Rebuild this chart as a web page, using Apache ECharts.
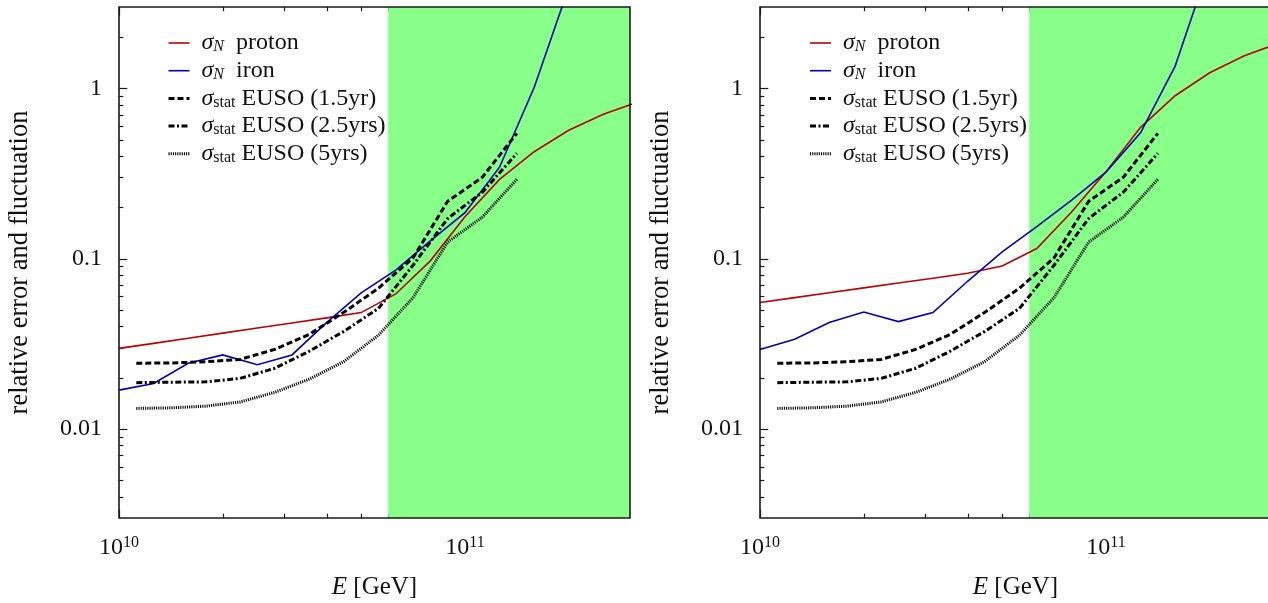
<!DOCTYPE html>
<html><head><meta charset="utf-8">
<script src="https://cdn.jsdelivr.net/npm/echarts@6/dist/echarts.min.js"></script>
<style>html,body{margin:0;padding:0;background:#fff}#c{width:1268px;height:603px}</style>
</head><body><div id="c"></div>
<script>
// ---- data ----
const energies = [1.0e10, 1.259e10, 1.585e10, 1.995e10, 2.512e10, 3.162e10, 3.981e10, 5.012e10, 6.310e10, 7.943e10, 1.0e11, 1.259e11, 1.585e11, 1.995e11, 2.512e11, 3.162e11];
const statEnergies = [1.122e10, 1.413e10, 1.778e10, 2.239e10, 2.818e10, 3.548e10, 4.467e10, 5.623e10, 7.079e10, 8.913e10, 1.122e11, 1.413e11];

const protonLeft  = [0.0297, 0.0318, 0.0341, 0.0365, 0.0391, 0.0419, 0.0449, 0.0482, 0.0620, 0.0970, 0.176, 0.292, 0.424, 0.567, 0.703, 0.830];
const ironLeft    = [0.0169, 0.0185, 0.0243, 0.0272, 0.0238, 0.0272, 0.0421, 0.0630, 0.0855, 0.127, 0.186, 0.344, 1.01, 3.9];
const protonRight = [0.0552, 0.0590, 0.0630, 0.0673, 0.0719, 0.0767, 0.0820, 0.0905, 0.1146, 0.187, 0.323, 0.590, 0.904, 1.233, 1.552, 1.84];
const ironRight   = [0.0293, 0.0336, 0.0421, 0.0486, 0.0427, 0.0482, 0.0736, 0.1096, 0.154, 0.220, 0.322, 0.548, 1.35, 5.35];

const stat15yr = [0.0243, 0.0244, 0.0248, 0.0256, 0.0293, 0.0359, 0.0484, 0.0670, 0.101, 0.217, 0.300, 0.544];
const stat25yr = [0.0187, 0.0188, 0.0189, 0.0198, 0.0227, 0.0286, 0.0374, 0.0510, 0.0914, 0.172, 0.245, 0.415];
const stat5yr  = [0.0132, 0.0133, 0.0136, 0.0144, 0.0164, 0.0196, 0.0249, 0.0355, 0.0590, 0.125, 0.175, 0.292];

const greenRange = [6e10, 3e11];

// ---- axes / ticks ----
const xRange = [1e10, 3e11];
const yRange = [0.003, 3];
const xMajorTicks = [1e10, 1e11];
const xTickExponents = ['10', '11'];
const xMinorTicks = [2e10, 3e10, 4e10, 5e10, 6e10, 7e10, 8e10, 9e10, 2e11];
const yMajorTicks = [0.01, 0.1, 1];
const yTickLabels = ['0.01', '0.1', '1'];
const yMinorTicks = [0.004, 0.005, 0.006, 0.007, 0.008, 0.009, 0.02, 0.03, 0.04, 0.05, 0.06, 0.07, 0.08, 0.09, 0.2, 0.3, 0.4, 0.5, 0.6, 0.7, 0.8, 0.9, 2];

const names = {
  p: 'sigmaN proton', fe: 'sigmaN iron',
  s1: 'sigma_stat EUSO (1.5yr)', s2: 'sigma_stat EUSO (2.5yrs)', s5: 'sigma_stat EUSO (5yrs)'
};
const legendText = {};
legendText[names.p]  = '{g|σ}{gs|N}{t|  proton}';
legendText[names.fe] = '{g|σ}{gs|N}{t|  iron}';
legendText[names.s1] = '{g|σ}{rs|stat}{t| EUSO (1.5yr)}';
legendText[names.s2] = '{g|σ}{rs|stat}{t| EUSO (2.5yrs)}';
legendText[names.s5] = '{g|σ}{rs|stat}{t| EUSO (5yrs)}';

const FONT = 'Liberation Serif';
const TXT = '#111';

function pairs(xs, ys) { return ys.map((v, i) => [xs[i], v]); }
function isPow10(v) { const e = Math.log10(v); return Math.abs(e - Math.round(e)) < 1e-6; }

const grids = [
  { left: 119, top: 7, width: 511, height: 511, show: true, backgroundColor: 'transparent', borderColor: '#1a1a1a', borderWidth: 1.6, z: 10, outerBoundsMode: 'none', containLabel: false },
  { left: 760, top: 7, width: 511, height: 511, show: true, backgroundColor: 'transparent', borderColor: '#1a1a1a', borderWidth: 1.6, z: 10, outerBoundsMode: 'none', containLabel: false }
];

function xAxisDef(gi) {
  return {
    type: 'log', logBase: 10, gridIndex: gi, min: xRange[0], max: xRange[1],
    axisLine: { show: false }, axisTick: { show: false }, splitLine: { show: false }, minorTick: { show: false },
    axisLabel: {
      margin: 17, showMinLabel: true, showMaxLabel: true,
      formatter: v => {
        if (!isPow10(v)) return '';
        const i = xMajorTicks.findIndex(t => Math.abs(Math.log10(t) - Math.log10(v)) < 1e-6);
        return i < 0 ? '' : '{m|10}{s|' + xTickExponents[i] + '}';
      },
      rich: {
        m: { fontFamily: FONT, fontSize: 24, lineHeight: 26, color: TXT },
        s: { fontFamily: FONT, fontSize: 16, lineHeight: 12, verticalAlign: 'top', color: TXT }
      }
    },
    name: '{i|E} [GeV]', nameLocation: 'middle', nameGap: 56,
    nameTextStyle: {
      rich: {
        i: { fontFamily: FONT, fontStyle: 'italic', fontSize: 25, lineHeight: 26, color: TXT }
      },
      fontFamily: FONT, fontSize: 25, lineHeight: 26, color: TXT
    }
  };
}
function yAxisDef(gi) {
  return {
    type: 'log', logBase: 10, gridIndex: gi, min: yRange[0], max: yRange[1],
    axisLine: { show: false }, axisTick: { show: false }, splitLine: { show: false }, minorTick: { show: false },
    axisLabel: {
      margin: 17, fontFamily: FONT, fontSize: 24, color: TXT,
      formatter: v => {
        const i = yMajorTicks.findIndex(t => Math.abs(Math.log10(t) - Math.log10(v)) < 1e-6);
        return i < 0 ? '' : yTickLabels[i];
      }
    },
    name: 'relative error and fluctuation', nameLocation: 'middle', nameGap: 86,
    nameTextStyle: { fontFamily: FONT, fontSize: 26.5, lineHeight: 26, color: TXT }
  };
}

function tickSeries(gi) {
  const data = [];
  xMajorTicks.forEach(v => data.push([v, 1, 8.3, 0]));
  xMinorTicks.forEach(v => data.push([v, 1, 4.3, 0]));
  yMajorTicks.forEach(v => data.push([2e10, v, 8.3, 1]));
  yMinorTicks.forEach(v => data.push([2e10, v, 4.3, 1]));
  return {
    type: 'custom', xAxisIndex: gi, yAxisIndex: gi, z: 1, silent: true, clip: false,
    renderItem(params, api) {
      const cs = params.coordSys;
      const p = api.coord([api.value(0), api.value(1)]);
      const len = api.value(2);
      const style = { stroke: '#1a1a1a', lineWidth: 1.2 };
      if (api.value(3) === 0) {
        const x = Math.round(p[0]) + 0.5;
        return { type: 'group', children: [
          { type: 'line', shape: { x1: x, y1: cs.y + cs.height, x2: x, y2: cs.y + cs.height - len }, style },
          { type: 'line', shape: { x1: x, y1: cs.y, x2: x, y2: cs.y + len }, style }
        ]};
      }
      const y = Math.round(p[1]) + 0.5;
      return { type: 'group', children: [
        { type: 'line', shape: { x1: cs.x, y1: y, x2: cs.x + len, y2: y }, style },
        { type: 'line', shape: { x1: cs.x + cs.width, y1: y, x2: cs.x + cs.width - len, y2: y }, style }
      ]};
    },
    data
  };
}

function greenSeries(gi) {
  return {
    type: 'custom', xAxisIndex: gi, yAxisIndex: gi, z: 2, silent: true, clip: true,
    encode: { x: [0, 2], y: 1 },
    renderItem(params, api) {
      const cs = params.coordSys;
      const a = api.coord([api.value(0), 1]);
      const b = api.coord([api.value(2), 1]);
      return { type: 'rect', shape: { x: a[0], y: cs.y, width: b[0] - a[0], height: cs.height }, style: { fill: '#88ff88' } };
    },
    data: [[greenRange[0], 1, greenRange[1]]]
  };
}

function lineSeries(gi, name, xs, ys, color, width, dash, z) {
  return {
    type: 'line', name, xAxisIndex: gi, yAxisIndex: gi, data: pairs(xs, ys),
    symbol: 'none', showSymbol: false, smooth: false, clip: true, z, animation: false,
    lineStyle: { color, width, type: dash, cap: 'butt', join: 'miter' },
    itemStyle: { color },
    emphasis: { disabled: true }
  };
}

const RED = '#bb0000', BLUE = '#0000bb', BLACK = '#000';
const DASH = [6, 3], DASHDOT = [6, 2.5, 2, 2.5], DOT = [1.1, 1.1];

function panelSeries(gi, proton, iron) {
  return [
    greenSeries(gi),
    tickSeries(gi),
    lineSeries(gi, names.p, energies, proton, RED, 1.6, 'solid', 3),
    lineSeries(gi, names.fe, energies, iron, BLUE, 1.6, 'solid', 3),
    lineSeries(gi, names.s1, statEnergies, stat15yr, BLACK, 3, DASH, 4),
    lineSeries(gi, names.s2, statEnergies, stat25yr, BLACK, 3, DASHDOT, 4),
    lineSeries(gi, names.s5, statEnergies, stat5yr, BLACK, 3, DOT, 4)
  ];
}

function legendDef(left) {
  return {
    left, top: 26, orient: 'vertical', itemWidth: 21, itemHeight: 12, itemGap: 3.7,
    selectedMode: false,
    itemStyle: { opacity: 0, borderWidth: 0 },
    lineStyle: { width: 'inherit', type: 'inherit' },
    data: [names.p, names.fe, names.s1, names.s2, names.s5],
    formatter: n => legendText[n],
    textStyle: {
      padding: [0, 0, 0, 7], color: TXT,
      rich: {
        g: { fontFamily: FONT, fontStyle: 'italic', fontSize: 24, lineHeight: 24, color: TXT },
        gs: { fontFamily: FONT, fontStyle: 'italic', fontSize: 16, lineHeight: 6, verticalAlign: 'bottom', color: TXT },
        rs: { fontFamily: FONT, fontSize: 16, lineHeight: 6, verticalAlign: 'bottom', color: TXT },
        t: { fontFamily: FONT, fontSize: 24, lineHeight: 24, color: TXT }
      }
    }
  };
}

const chart = echarts.init(document.getElementById('c'), null, { renderer: 'canvas' });
chart.setOption({
  animation: false,
  backgroundColor: '#fff',
  grid: grids,
  xAxis: [xAxisDef(0), xAxisDef(1)],
  yAxis: [yAxisDef(0), yAxisDef(1)],
  legend: [legendDef(162), legendDef(803.5)],
  series: [...panelSeries(0, protonLeft, ironLeft), ...panelSeries(1, protonRight, ironRight)]
});
</script></body></html>
